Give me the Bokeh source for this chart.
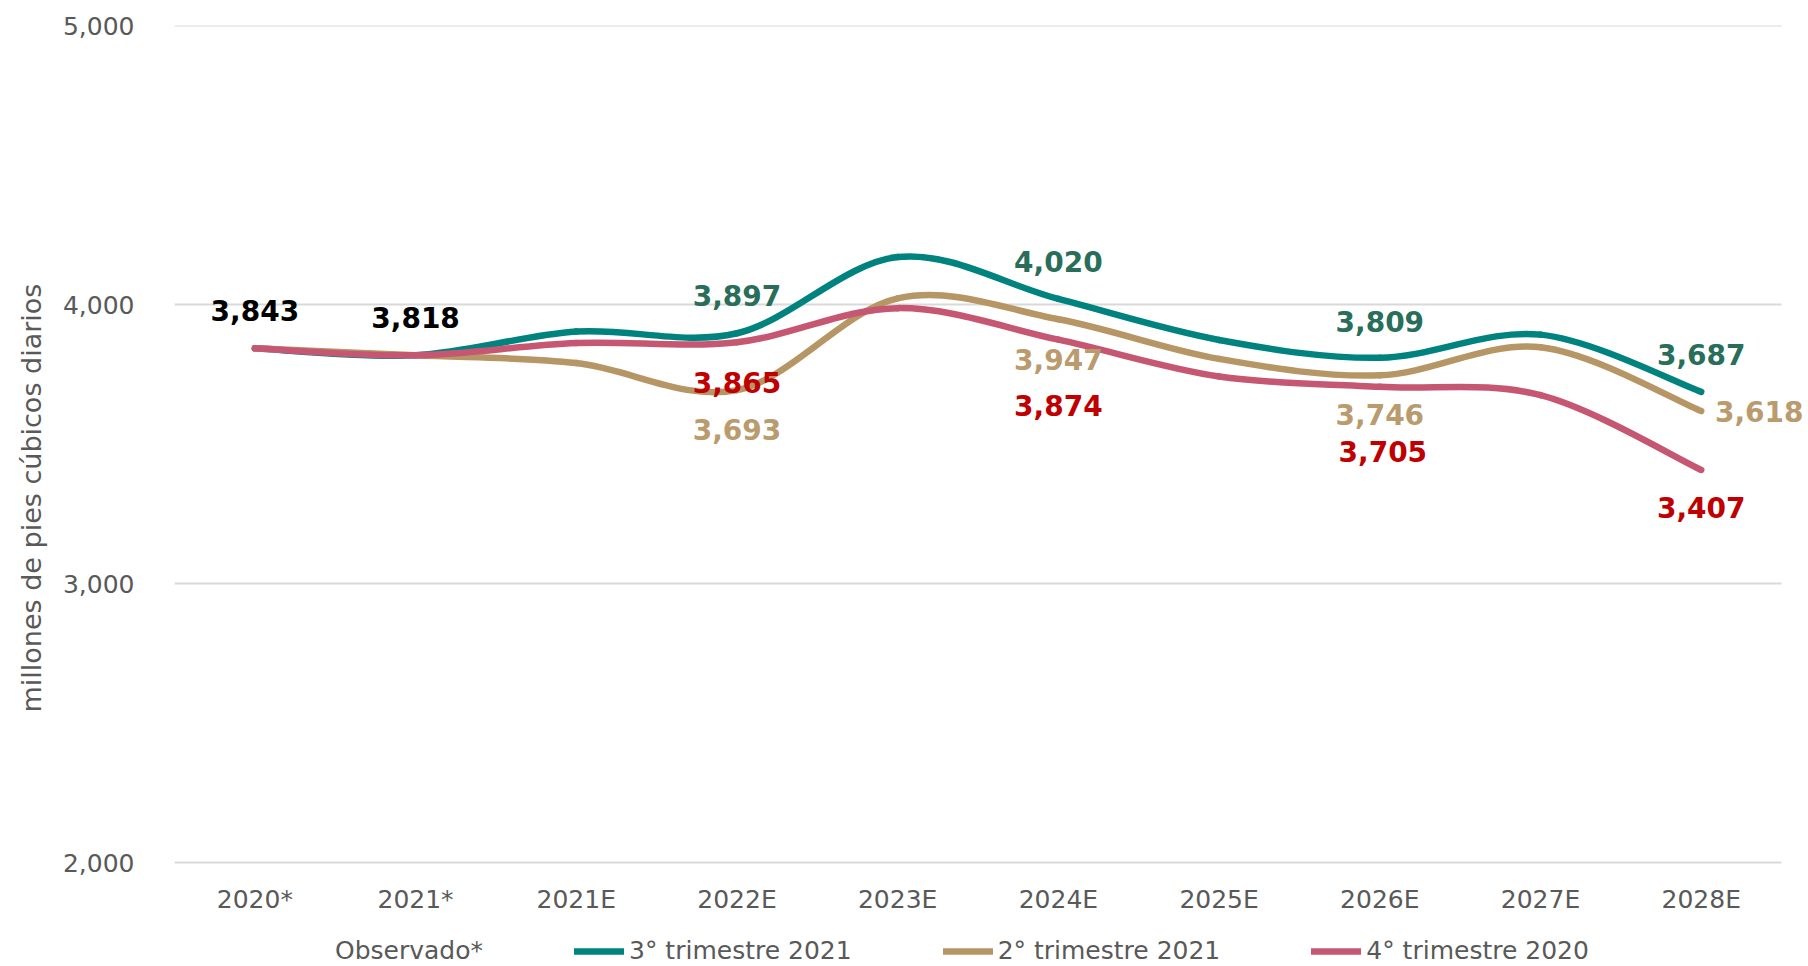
from bokeh.plotting import figure
from bokeh.models import (Range1d, FixedTicker, NumeralTickFormatter, Legend,
                          LegendItem, Title, ColumnDataSource)
from bokeh.core.properties import value
from bokeh.embed import file_html
from bokeh.resources import INLINE

# ---------------- data ----------------
categories = ["2020*", "2021*", "2021E", "2022E", "2023E",
              "2024E", "2025E", "2026E", "2027E", "2028E"]
observado = [3843, 3818]
q3_2021 = [3843, 3818, 3903, 3897, 4170, 4020, 3873, 3809, 3892, 3687]
q2_2021 = [3843, 3818, 3790, 3693, 4022, 3947, 3805, 3746, 3847, 3618]
q4_2020 = [3843, 3818, 3862, 3865, 3987, 3874, 3742, 3705, 3675, 3407]
y_ticks = [2000, 3000, 4000, 5000]
series_names = ["3° trimestre 2021", "2° trimestre 2021", "4° trimestre 2020"]
observado_name = "Observado*"
y_title = "millones de pies cúbicos diarios"
labelled_idx = [3, 5, 7, 9]   # categories with value labels for the forecast series

# ---------------- style ----------------
FONT = "DejaVu Sans"
GREY = "#595959"
line_colors = ["#00827F", "#B69664", "#C55773"]
label_colors = ["#296E5A", "#B99B6E", "#C00000"]

W, H = 1808, 966
LEFT, TOP = 169, 25
AXIS_Y = 862          # pixel row of the lowest gridline
BAND = 161.2          # px per category
n = len(categories)
x_end = -0.5 + (W - LEFT) / BAND
units_per_px = (y_ticks[-1] - y_ticks[0]) / (AXIS_Y - TOP)
y_start = y_ticks[0] - (H - AXIS_Y) * units_per_px

p = figure(width=W, height=H, output_backend="svg", toolbar_location=None,
           x_range=Range1d(-0.5, x_end),
           y_range=Range1d(y_start, y_ticks[-1]),
           min_border_left=LEFT, min_border_right=0,
           min_border_top=TOP, min_border_bottom=0)
p.outline_line_color = None
p.background_fill_color = "white"
p.border_fill_color = "white"
p.xgrid.grid_line_color = None
p.ygrid.grid_line_color = None

p.xaxis.ticker = FixedTicker(ticks=list(range(n)))
p.xaxis.major_label_overrides = {i: c for i, c in enumerate(categories)}
p.xaxis.fixed_location = y_ticks[0]
p.yaxis.ticker = FixedTicker(ticks=y_ticks)
p.yaxis.formatter = NumeralTickFormatter(format="0,0")
for ax in (p.xaxis[0], p.yaxis[0]):
    ax.axis_line_color = None
    ax.major_tick_line_color = None
    ax.minor_tick_line_color = None
    ax.major_label_text_font = FONT
    ax.major_label_text_font_size = "25px"
    ax.major_label_text_color = GREY
p.xaxis.major_label_standoff = 16
p.yaxis.major_label_standoff = 34

# horizontal gridlines spanning the category bands only
p.segment(x0=[-0.5] * len(y_ticks), x1=[n - 0.5] * len(y_ticks),
          y0=y_ticks, y1=y_ticks, line_color="#D9D9D9", line_width=2)

p.add_layout(Title(text=y_title, align="left", text_font=FONT,
                   text_font_size="27px", text_font_style="normal",
                   text_color=GREY, offset=254, standoff=26), "left")


def bezier_source(ys):
    m = len(ys)
    xs = list(range(m))
    d = dict(x0=[], y0=[], x1=[], y1=[], cx0=[], cy0=[], cx1=[], cy1=[])
    for i in range(m - 1):
        i0 = max(i - 1, 0)
        i3 = min(i + 2, m - 1)
        d["x0"].append(xs[i]); d["y0"].append(ys[i])
        d["x1"].append(xs[i + 1]); d["y1"].append(ys[i + 1])
        d["cx0"].append(xs[i] + (xs[i + 1] - xs[i0]) / 6)
        d["cy0"].append(ys[i] + (ys[i + 1] - ys[i0]) / 6)
        d["cx1"].append(xs[i + 1] - (xs[i3] - xs[i]) / 6)
        d["cy1"].append(ys[i + 1] - (ys[i3] - ys[i]) / 6)
    return ColumnDataSource(d)


all_series = [q3_2021, q2_2021, q4_2020]
series_renderers = []
for ys, col in zip(all_series, line_colors):
    r = p.bezier(x0="x0", y0="y0", x1="x1", y1="y1", cx0="cx0", cy0="cy0",
                 cx1="cx1", cy1="cy1", source=bezier_source(ys),
                 line_color=col, line_width=6.5, line_cap="round")
    series_renderers.append(r)

obs_r = p.line(x=list(range(len(observado))), y=observado, line_alpha=0)

# ---------------- value labels ----------------
lx, ly, lt, lc, ldx, ldy = [], [], [], [], [], []
for i, v in enumerate(observado):
    lx.append(i); ly.append(v); lt.append(f"{v:,}"); lc.append("#000000")
    ldx.append(0); ldy.append(-38)
offs = [
    [(0, -38), (0, -37), (0, -36), (0, -37)],   # 3° trimestre 2021
    [(0, 39), (0, 40), (0, 39), (58, 0)],      # 2° trimestre 2021
    [(0, 40), (0, 66), (3, 65), (0, 38)],      # 4° trimestre 2020
]
for s, ys in enumerate(all_series):
    for k, i in enumerate(labelled_idx):
        lx.append(i); ly.append(ys[i]); lt.append(f"{ys[i]:,}")
        lc.append(label_colors[s])
        ldx.append(offs[s][k][0]); ldy.append(offs[s][k][1])

lsrc = ColumnDataSource(dict(x=lx, y=ly, text=lt, color=lc, dx=ldx, dy=ldy))
p.text(x="x", y="y", text="text", source=lsrc, x_offset="dx", y_offset="dy",
       text_color="color", text_font=value(FONT), text_font_style="bold",
       text_font_size="28px", text_align="center", text_baseline="middle")

# ---------------- legend ----------------
items = [LegendItem(label=observado_name, renderers=[obs_r])]
for name, r in zip(series_names, series_renderers):
    items.append(LegendItem(label=name, renderers=[r]))
legend = Legend(items=items, location=(106, 1), orientation="horizontal",
                spacing=91, glyph_width=50, glyph_height=24, label_height=24,
                label_standoff=5, padding=0, margin=0, border_line_alpha=0,
                background_fill_alpha=0, label_text_font=FONT,
                label_text_font_size="25px", label_text_color=GREY)
p.add_layout(legend, "center")

open("out.html", "w").write(file_html(p, INLINE))
